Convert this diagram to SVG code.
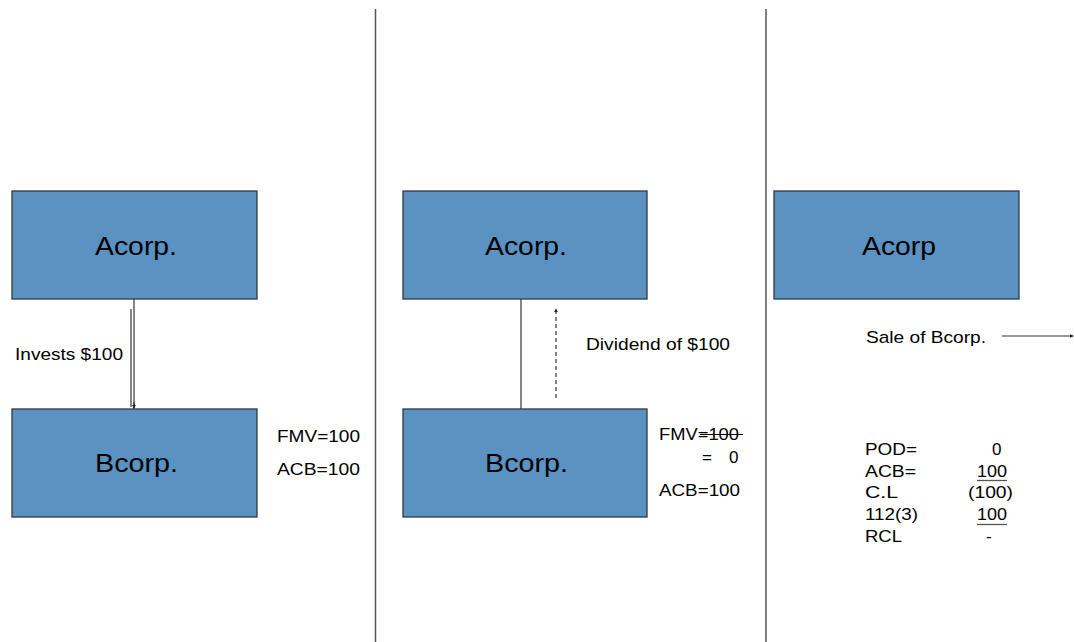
<svg xmlns="http://www.w3.org/2000/svg" width="1074" height="642" viewBox="0 0 1074 642">
<style>
.box{fill:#5a92c2;stroke:#2f3a44;stroke-width:1.3}
.t{font-family:"Liberation Sans",Arial,sans-serif;fill:#000}
.big{font-size:26px}
.sm{font-size:17px}
.div{stroke:#555;stroke-width:1.5;fill:none}
.con{stroke:#333;stroke-width:1.2;fill:none}
.ul{stroke:#555;stroke-width:1.3}
</style>
<defs>
<marker id="ah" viewBox="0 0 6 6" refX="5" refY="3" markerWidth="4" markerHeight="4" orient="auto" markerUnits="userSpaceOnUse">
<path d="M0,0 L6,3 L0,6 z" fill="#222"/>
</marker>
</defs>
<rect width="1074" height="642" fill="#fff"/>
<g id="dividers">
<line class="div" x1="375.5" y1="9" x2="375.5" y2="642"/>
<line class="div" x1="766" y1="9" x2="766" y2="642"/>
</g>
<g id="connectors">
<line class="con" x1="134" y1="299" x2="134" y2="409" stroke="#777"/>
<line class="con" x1="131" y1="309" x2="131" y2="407"/>
<line class="con" x1="134" y1="402" x2="134" y2="408" marker-end="url(#ah)"/>
<line class="con" x1="521" y1="299" x2="521" y2="409"/>
<line class="con" x1="556" y1="398" x2="556" y2="309" stroke-dasharray="4,3" marker-end="url(#ah)"/>
<line class="con" x1="1002" y1="336" x2="1073" y2="336" marker-end="url(#ah)"/>
</g>
<g id="n1-acorp">
<rect class="box" x="12" y="191" width="245" height="108"/>
<text class="t big" x="95" y="255" textLength="82" lengthAdjust="spacingAndGlyphs">Acorp.</text>
</g>
<g id="n1-bcorp">
<rect class="box" x="12" y="409" width="245" height="108"/>
<text class="t big" x="95" y="472" textLength="83" lengthAdjust="spacingAndGlyphs">Bcorp.</text>
</g>
<g id="n2-acorp">
<rect class="box" x="403" y="191" width="244" height="108"/>
<text class="t big" x="485" y="255" textLength="82" lengthAdjust="spacingAndGlyphs">Acorp.</text>
</g>
<g id="n2-bcorp">
<rect class="box" x="403" y="409" width="244" height="108"/>
<text class="t big" x="485" y="472" textLength="83" lengthAdjust="spacingAndGlyphs">Bcorp.</text>
</g>
<g id="n3-acorp">
<rect class="box" x="774" y="191" width="245" height="108"/>
<text class="t big" x="862" y="255" textLength="74" lengthAdjust="spacingAndGlyphs">Acorp</text>
</g>
<g id="labels">
<text class="t sm" x="15" y="360" textLength="108" lengthAdjust="spacingAndGlyphs">Invests $100</text>
<text class="t sm" x="277" y="442" textLength="83" lengthAdjust="spacingAndGlyphs">FMV=100</text>
<text class="t sm" x="277" y="475" textLength="83" lengthAdjust="spacingAndGlyphs">ACB=100</text>
<text class="t sm" x="586" y="350" textLength="144" lengthAdjust="spacingAndGlyphs">Dividend of $100</text>
<text class="t sm" x="659" y="440" textLength="80" lengthAdjust="spacingAndGlyphs">FMV=100</text>
<line x1="700" y1="434.5" x2="743" y2="434.5" stroke="#000" stroke-width="1.2"/>
<text class="t sm" x="702" y="463">=</text>
<text class="t sm" x="729" y="463">0</text>
<text class="t sm" x="659" y="496" textLength="81" lengthAdjust="spacingAndGlyphs">ACB=100</text>
<text class="t sm" x="866" y="343" textLength="120" lengthAdjust="spacingAndGlyphs">Sale of Bcorp.</text>
<text class="t sm" x="865" y="455" textLength="52" lengthAdjust="spacingAndGlyphs">POD=</text>
<text class="t sm" x="865" y="477" textLength="51" lengthAdjust="spacingAndGlyphs">ACB=</text>
<text class="t sm" x="865" y="498" textLength="33" lengthAdjust="spacingAndGlyphs">C.L</text>
<text class="t sm" x="865" y="520" textLength="53" lengthAdjust="spacingAndGlyphs">112(3)</text>
<text class="t sm" x="865" y="542" textLength="37" lengthAdjust="spacingAndGlyphs">RCL</text>
<text class="t sm" x="992" y="455">0</text>
<text class="t sm" x="977" y="477" textLength="30" lengthAdjust="spacingAndGlyphs">100</text>
<line class="ul" x1="977" y1="480.5" x2="1007" y2="480.5"/>
<text class="t sm" x="968" y="498" textLength="45" lengthAdjust="spacingAndGlyphs">(100)</text>
<text class="t sm" x="977" y="520" textLength="30" lengthAdjust="spacingAndGlyphs">100</text>
<line class="ul" x1="977" y1="524.5" x2="1007" y2="524.5"/>
<text class="t sm" x="986" y="542">-</text>
</g>
</svg>
